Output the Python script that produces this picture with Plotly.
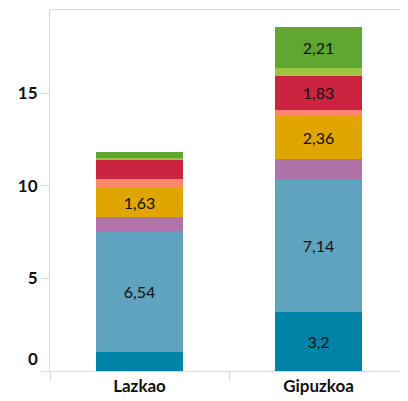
import plotly.graph_objects as go

categories = ["Lazkao", "Gipuzkoa"]
s1 = [1.0, 3.2]
s2 = [6.54, 7.14]
s3 = [0.76, 1.08]
s4 = [1.63, 2.36]
s5 = [0.41, 0.32]
s6 = [1.02, 1.83]
s7 = [0.12, 0.41]
s8 = [0.32, 2.21]
series = [s1, s2, s3, s4, s5, s6, s7, s8]
colors = ["#0083A6", "#5FA3BF", "#B073A8", "#E0A500", "#FF866E", "#CC2440", "#9DC43F", "#5EA832"]
yticks = [0, 5, 10, 15]

def lab(v):
    return str(v).replace(".", ",") if v >= 1.5 else ""

fig = go.Figure()
for vals, col in zip(series, colors):
    fig.add_trace(go.Bar(
        x=categories, y=vals, marker=dict(color=col, line=dict(width=0)),
        width=0.49, text=[lab(v) for v in vals], textposition="inside",
        insidetextanchor="middle", textangle=0,
        textfont=dict(color="#111111", size=16, family="Lato"),
        hoverinfo="skip", showlegend=False))

fig.add_annotation(x=0, xref="paper", xanchor="right", xshift=-10,
                   y=0, yref="y", yshift=13, text="<b>0</b>", showarrow=False,
                   font=dict(size=17, color="#111111", family="Lato"))

fig.update_layout(
    barmode="stack", width=400, height=393,
    margin=dict(l=42, r=0, t=2, b=30),
    plot_bgcolor="white", paper_bgcolor="white",
    font=dict(family="Lato", size=17, color="#111111"),
    xaxis=dict(showline=True, linecolor="#D9D9D9", linewidth=1, mirror=True,
               ticks="outside", tickson="boundaries", ticklen=9, tickcolor="#D9D9D9",
               tickfont=dict(size=17, family="Lato", color="#111111"),
               tickprefix="<b>", ticksuffix="</b>", showgrid=False),
    yaxis=dict(range=[0, 19.48], showline=True, linecolor="#D9D9D9", linewidth=1, mirror=True,
               ticks="outside", ticklen=8, tickcolor="#D9D9D9", showgrid=False,
               zeroline=False, tickvals=yticks, ticktext=["", "<b>5</b>", "<b>10</b>", "<b>15</b>"],
               tickfont=dict(size=17, family="Lato", color="#111111")),
)
fig.write_html("out.html")
